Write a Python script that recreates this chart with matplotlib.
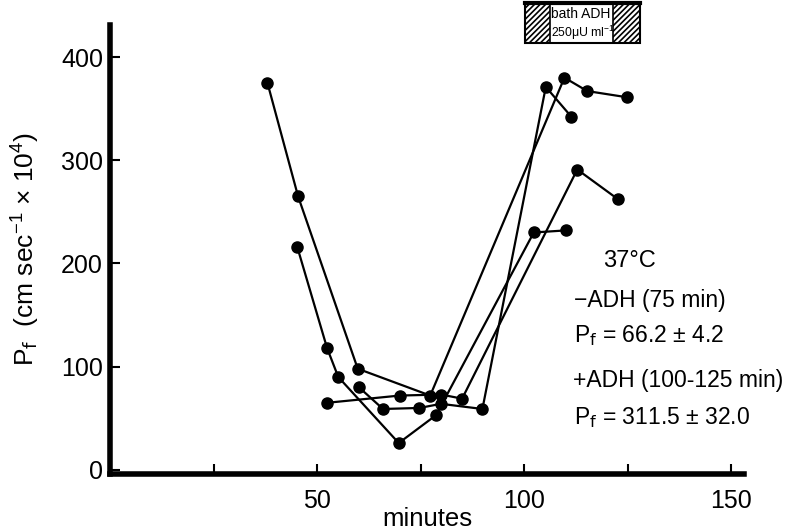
import matplotlib
matplotlib.use("Agg")
import matplotlib.pyplot as plt
from matplotlib.patches import Rectangle

plt.rcParams['font.family'] = ['Liberation Sans', 'DejaVu Sans']
plt.rcParams['mathtext.default'] = 'regular'
plt.rcParams['hatch.linewidth'] = 1.2

# four preparations, time (minutes) vs Pf (cm sec-1 x 10^4)
a_t = [38, 45.4, 59.8, 77.3, 109.7, 115.2, 124.8]
a_p = [375, 265, 98, 72, 380, 367, 361]
b_t = [45.2, 52.4, 55.1, 69.7, 78.7, 102.3, 110]
b_p = [216, 118, 90, 26, 53, 230, 232]
c_t = [52.4, 69.9, 79.9, 85.0, 112.8, 122.7]
c_p = [65, 72, 73, 69, 291, 262]
d_t = [60.1, 65.9, 74.7, 79.9, 89.9, 105.2, 111.4]
d_p = [80, 59, 60, 64, 59, 371, 342]

x_ticks = [25, 50, 75, 100, 125, 150]
x_labels = ['', '50', '', '100', '', '150']
y_ticks = [0, 100, 200, 300, 400]

adh_start, adh_end = 100.2, 128

fig = plt.figure(figsize=(8.12, 5.32), dpi=100)
ax = fig.add_axes([0.1355, 0.109, 0.916 - 0.1355, 0.953 - 0.109])

for t, p in [(a_t, a_p), (b_t, b_p), (c_t, c_p), (d_t, d_p)]:
    ax.plot(t, p, color='black', lw=1.6, marker='o', ms=8, mfc='black', mec='black')

ax.set_xlim(0, 153)
ax.set_ylim(-4, 431)
ax.spines['top'].set_visible(False)
ax.spines['right'].set_visible(False)
ax.spines['left'].set_linewidth(4)
ax.spines['bottom'].set_linewidth(4)
ax.set_xticks(x_ticks)
ax.set_xticklabels(x_labels)
ax.set_yticks(y_ticks)
ax.tick_params(direction='in', length=7, width=1.5, labelsize=18)
ax.tick_params(axis='x', pad=11)
ax.tick_params(axis='y', pad=5)

ax.set_xlabel('minutes', fontsize=18.5)
ax.xaxis.set_label_coords(0.5, -0.1)
ax.xaxis.label.set_va('center')
ax.set_ylabel(r'P$_\mathrm{f}$  (cm sec$^{-1}$ × 10$^{4}$)', fontsize=19, labelpad=14)

# annotation block
ax.text(125.4, 202, '37°C', fontsize=17, ha='center', va='center')
ax.text(112.0, 164, '−ADH (75 min)', fontsize=16.5, ha='left', va='center')
ax.text(112.0, 130, r'P$_\mathrm{f}$ = 66.2 ± 4.2', fontsize=16.5, ha='left', va='center')
ax.text(111.8, 87, '+ADH (100-125 min)', fontsize=16.5, ha='left', va='center')
ax.text(112.0, 51, r'P$_\mathrm{f}$ = 311.5 ± 32.0', fontsize=16.5, ha='left', va='center')

# bath ADH box above the plot
y0, y1 = 414, 452
hw = 6
ax.add_patch(Rectangle((adh_start, y0), adh_end - adh_start, y1 - y0, fill=False,
                       ec='black', lw=1.5, clip_on=False))
ax.add_patch(Rectangle((adh_start, y0), hw, y1 - y0, fill=False, hatch='//////',
                       ec='black', lw=1.2, clip_on=False))
ax.add_patch(Rectangle((adh_end - 6.5, y0), 6.5, y1 - y0, fill=False, hatch='//////',
                       ec='black', lw=1.2, clip_on=False))
ax.plot([adh_start, adh_end], [y1, y1], color='black', lw=3, clip_on=False)
ax.text(adh_start + hw + 0.3, 442, 'bath ADH', fontsize=10, ha='left', va='center')
ax.text(adh_start + hw + 0.3, 423, r'250$\mu$U ml$^{-1}$', fontsize=8.8, ha='left', va='center')

fig.savefig('out.png', dpi=100)
